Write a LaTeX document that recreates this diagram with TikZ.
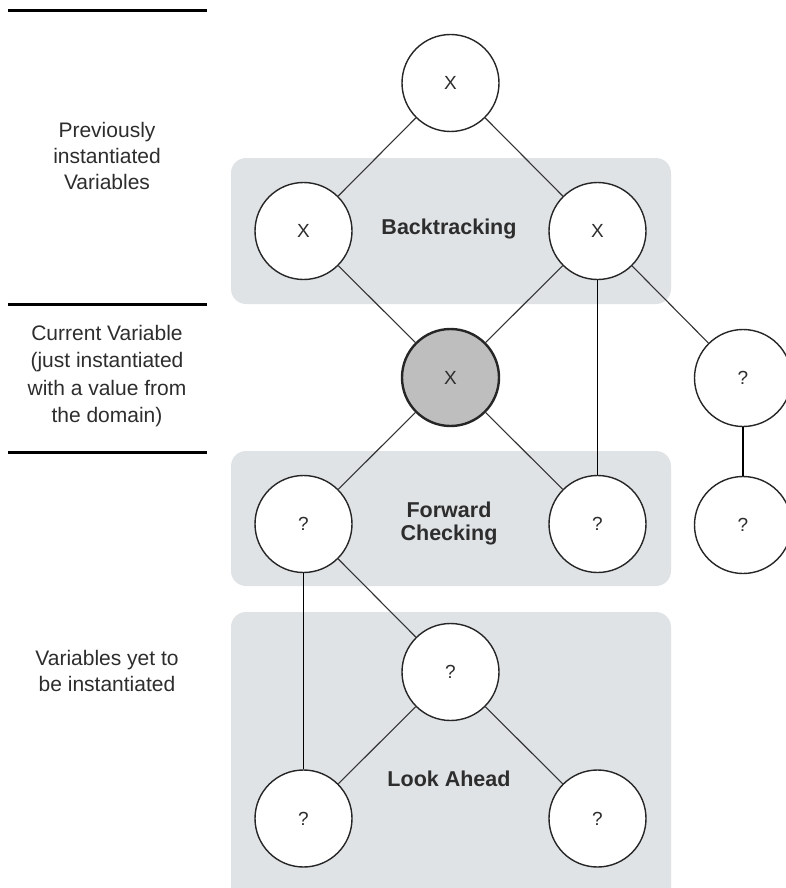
\documentclass[tikz,border=0pt]{standalone}
\usepackage{fontspec}
\setmainfont{Liberation Sans}
\definecolor{boxgray}{RGB}{224,227,230}
\definecolor{curgray}{RGB}{190,190,190}
\definecolor{txt}{RGB}{45,45,45}
\begin{document}
\begin{tikzpicture}[x=1pt,y=-1pt,
  var/.style={circle,draw=black!85,line width=1.4pt,fill=white,minimum size=97pt,inner sep=0pt,font=\fontsize{19}{21}\selectfont,text=txt},
  cur/.style={var,fill=curgray,line width=2.4pt},
  region/.style={fill=boxgray,rounded corners=15pt,draw=none},
  rlabel/.style={font=\bfseries\fontsize{21.5}{23}\selectfont,text=txt,align=center},
  side/.style={font=\fontsize{21}{26}\selectfont,text=txt,align=center},
  edge/.style={draw=black!80,line width=1.1pt},
  vedge/.style={draw=black,line width=1.7pt},
  sep/.style={draw=black,line width=3pt}]
\useasboundingbox (0,0) rectangle (785,888);
% regions
\path[region] (231,158) rectangle (671,304);
\path[region] (231,451) rectangle (671,586);
\path[region] (231,612) rectangle (671,905);
% side separators
\coordinate (s1a) at (8,11); \coordinate (s1b) at (207,11);
\coordinate (s2a) at (8,304); \coordinate (s2b) at (207,304);
\coordinate (s3a) at (8,452); \coordinate (s3b) at (207,452);
\draw[sep] (s1a) -- (s1b);
\draw[sep] (s2a) -- (s2b);
\draw[sep] (s3a) -- (s3b);
% side text
\node[side] (t1) at (107,156) {Previously\\instantiated\\Variables};
\node[side,font=\fontsize{21}{27.5}\selectfont] (t2) at (107,376) {Current Variable\\(just instantiated\\with a value from\\the domain)};
\node[side] (t3) at (107,671) {Variables yet to\\be instantiated};
% region labels
\node[rlabel] (lb) at (449,229) {Backtracking};
\node[rlabel] (lf) at (449,523) {Forward\\Checking};
\node[rlabel] (ll) at (449,779) {Look Ahead};
% nodes
\node[var] (top) at (450.5,83) {X};
\node[var] (bl) at (303.5,231) {X};
\node[var] (br) at (597.5,231) {X};
\node[cur] (cur) at (450.5,377.5) {X};
\node[var] (r1) at (743,378) {?};
\node[var] (r2) at (743,525) {?};
\node[var] (fl) at (303.5,524) {?};
\node[var] (fr) at (597.5,524) {?};
\node[var] (lt) at (450.5,672) {?};
\node[var] (lbl) at (303.5,818.5) {?};
\node[var] (lbr) at (597.5,818.5) {?};
% edges
\draw[edge] (top) -- (bl);
\draw[edge] (top) -- (br);
\draw[edge] (bl) -- (cur);
\draw[edge] (br) -- (cur);
\draw[edge] (br) -- (r1);
\draw[vedge] (br) -- (fr);
\draw[vedge] (r1) -- (r2);
\draw[edge] (cur) -- (fl);
\draw[edge] (cur) -- (fr);
\draw[edge] (fl) -- (lt);
\draw[vedge] (fl) -- (lbl);
\draw[edge] (lt) -- (lbl);
\draw[edge] (lt) -- (lbr);
\end{tikzpicture}
\end{document}
